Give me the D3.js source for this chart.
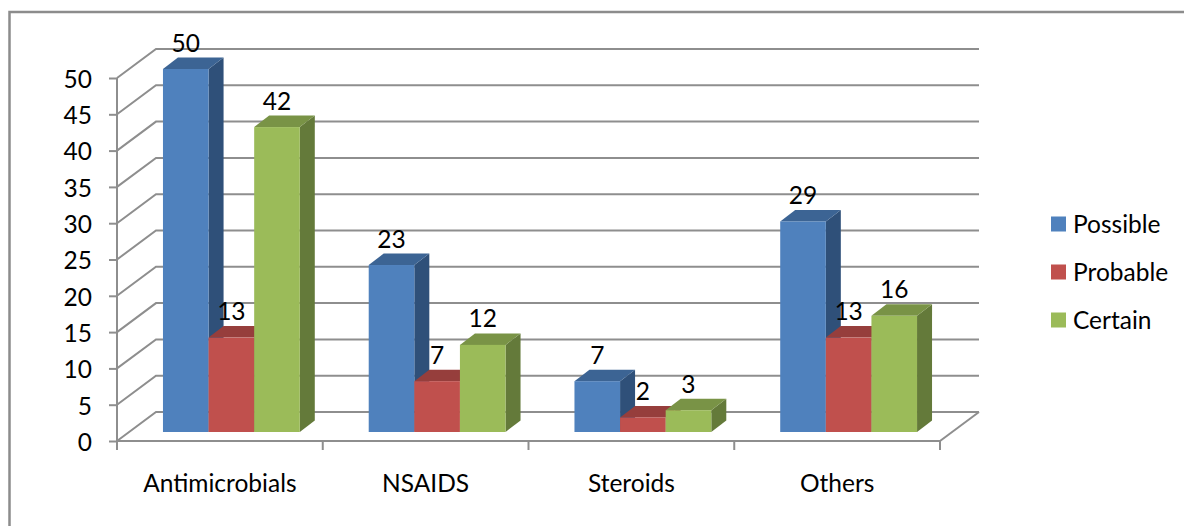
<!DOCTYPE html>
<html lang="en">

<head>
  <meta charset="UTF-8">
  <title>Bar chart</title>
  <script src="https://cdn.jsdelivr.net/npm/d3@7/dist/d3.min.js"></script>
  <style>
    html, body { margin: 0; padding: 0; background: #fff; overflow: hidden; }
    text { font-family: Lato, "Open Sans", sans-serif; fill: #000; }
  </style>
</head>

<body>
  <svg width="1184" height="526"></svg>
</body>

<script>
  const categories = ["Antimicrobials", "NSAIDS", "Steroids", "Others"];
  const seriesNames = ["Possible", "Probable", "Certain"];
  const possible = [50, 23, 7, 29];
  const probable = [13, 7, 2, 13];
  const certain = [42, 12, 3, 16];
  const yTicks = [0, 5, 10, 15, 20, 25, 30, 35, 40, 45, 50];

  const seriesValues = [possible, probable, certain];
  const frontColors = ["#4f81bd", "#c0504d", "#9bbb59"];
  const topColors = ["#3c6494", "#963e3c", "#799346"];
  const sideColors = ["#2f5079", "#7b3230", "#647a3a"];

  const svg = d3.select("svg");
  const gridColor = "#8e8e8e";
  const fontSize = 24.5;

  // outer frame, only left and top are visible in the picture
  svg.append("path")
    .attr("d", "M1184,12H9.5V526")
    .attr("fill", "none")
    .attr("stroke", "#8c8c8c")
    .attr("stroke-width", 2.5);

  /**
   * scales
   */
  const xScale = d3.scaleBand()
    .domain(categories)
    .range([117, 940])
    .paddingInner(0.335)
    .paddingOuter(0.1675);

  const xOuter = d3.scaleBand().domain(categories).range([117, 940]);

  const yScale = d3.scaleLinear()
    .domain([0, 50])
    .range([441, 78]);

  const inner = d3.scaleBand().domain(seriesNames).range([0, xScale.bandwidth()]);

  // 3d wall offset, and where the bars stand on the floor
  const wall = { dx: 39, dy: -29 };
  const depth = { dx: 15, dy: -11.5 };
  const floor = { dx: 11.5, dy: -9 };

  /**
   * walls + gridlines
   */
  const grid = svg.append("g")
    .attr("fill", "none")
    .attr("stroke", gridColor)
    .attr("stroke-width", 2);

  grid.selectAll("path")
    .data(yTicks)
    .enter()
    .append("path")
    .attr("d", d => {
      const y = yScale(d);
      return "M117," + y + "L" + (117 + wall.dx) + "," + (y + wall.dy) + "H" + (940 + wall.dx);
    });

  // right edge of the floor
  grid.append("path")
    .attr("d", "M940," + yScale(0) + "L" + (940 + wall.dx) + "," + (yScale(0) + wall.dy));

  /**
   * axes
   */
  const xAxis = svg.append("g")
    .attr("transform", "translate(0," + yScale(0) + ")")
    .call(d3.axisBottom(xOuter).tickSize(0).tickPadding(33.5));
  xAxis.select(".domain").remove();
  xAxis.selectAll("text").attr("font-size", fontSize).attr("font-family", null);

  // tick marks sit between the categories
  xAxis.selectAll("line.sep")
    .data(d3.range(categories.length + 1))
    .enter()
    .append("line")
    .attr("class", "sep")
    .attr("x1", d => 117 + d * xOuter.step())
    .attr("x2", d => 117 + d * xOuter.step())
    .attr("y1", 0)
    .attr("y2", 9)
    .attr("stroke", gridColor)
    .attr("stroke-width", 2);

  xAxis.append("line")
    .attr("x1", 117).attr("x2", 940)
    .attr("stroke", gridColor).attr("stroke-width", 2);

  const yAxis = svg.append("g")
    .attr("transform", "translate(117,0)")
    .call(d3.axisLeft(yScale).tickValues(yTicks).tickSize(8).tickPadding(17));
  yAxis.select(".domain")
    .attr("d", "M0," + yScale(50) + "V" + yScale(0))
    .attr("stroke", gridColor).attr("stroke-width", 2);
  yAxis.selectAll("line").attr("stroke", gridColor).attr("stroke-width", 2);
  yAxis.selectAll("text").attr("font-size", fontSize).attr("font-family", null).attr("y", 1.5);

  /**
   * bars
   */
  const groups = svg.append("g")
    .selectAll("g")
    .data(categories)
    .enter()
    .append("g")
    .attr("transform", d => "translate(" + (xScale(d) + floor.dx) + "," + floor.dy + ")");

  // back to front so the neighbour's face covers the side
  seriesNames.forEach((name, s) => {
    const bar = groups.append("g").datum((d, i) => ({ value: seriesValues[s][i], x: inner(name), w: inner.bandwidth() }));

    bar.append("path")
      .attr("fill", sideColors[s])
      .attr("d", d => {
        const r = d.x + d.w, t = yScale(d.value), b = yScale(0);
        return "M" + r + "," + t + "l" + depth.dx + "," + depth.dy + "V" + (b + depth.dy) + "l" + (-depth.dx) + "," + (-depth.dy) + "Z";
      });

    bar.append("path")
      .attr("fill", topColors[s])
      .attr("d", d => {
        const t = yScale(d.value);
        return "M" + d.x + "," + t + "l" + depth.dx + "," + depth.dy + "h" + d.w + "l" + (-depth.dx) + "," + (-depth.dy) + "Z";
      });

    bar.append("rect")
      .attr("fill", frontColors[s])
      .attr("x", d => d.x)
      .attr("y", d => yScale(d.value))
      .attr("width", d => d.w)
      .attr("height", d => yScale(0) - yScale(d.value));
  });

  /**
   * value labels
   */
  seriesNames.forEach((name, s) => {
    groups.append("text")
      .datum((d, i) => seriesValues[s][i])
      .attr("x", inner(name) + inner.bandwidth() / 2)
      .attr("y", d => yScale(d) + depth.dy - 6)
      .attr("text-anchor", "middle")
      .attr("font-size", fontSize)
      .text(d => d);
  });

  /**
   * legend
   */
  const legend = svg.append("g")
    .selectAll("g")
    .data(seriesNames)
    .enter()
    .append("g")
    .attr("transform", (d, i) => "translate(1051," + (216.5 + i * 48) + ")");

  legend.append("rect")
    .attr("width", 15)
    .attr("height", 15)
    .attr("fill", (d, i) => frontColors[i]);

  legend.append("text")
    .attr("x", 22)
    .attr("y", 16)
    .attr("font-size", fontSize)
    .text(d => d);
</script>

</html>
